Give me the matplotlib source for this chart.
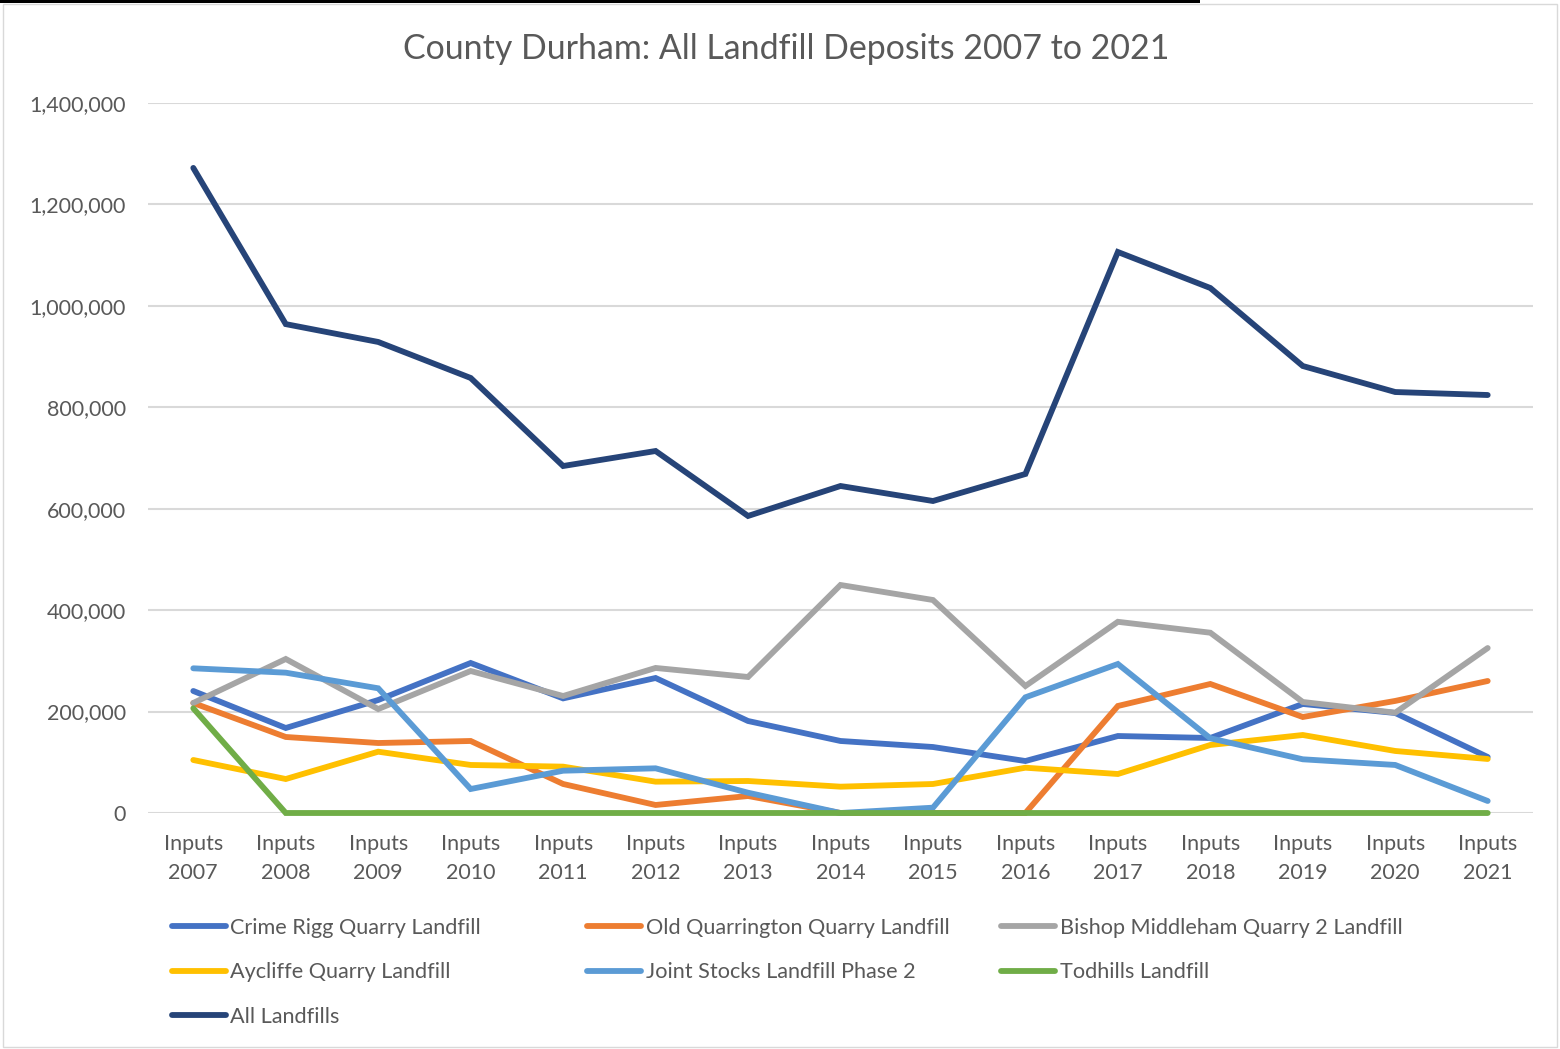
import numpy as np
import matplotlib
matplotlib.use("Agg")
import matplotlib.pyplot as plt
from matplotlib.ticker import FuncFormatter

plt.rcParams['font.family'] = ['Lato', 'DejaVu Sans']

years = list(range(2007, 2022))
labels = ["Inputs\n%d" % y for y in years]

crime_rigg = [240600, 167600, 222800, 295800, 226000, 266200, 181400, 142000,
              130100, 102500, 151800, 147900, 215000, 197200, 110400]
old_quarrington = [216900, 149900, 138000, 142000, 57200, 15800, 33500, 0,
                   0, 0, 211000, 254400, 189300, 221000, 260300]
bishop_middleham = [217000, 303700, 205000, 280000, 230700, 286000, 268200, 449600,
                    420000, 250400, 377000, 355500, 218900, 197800, 325300]
aycliffe = [104500, 67000, 120900, 94700, 91400, 61800, 63100, 51900,
            57200, 89300, 76900, 134100, 153800, 122300, 106500]
joint_stocks = [285300, 276700, 245900, 47300, 83400, 88100, 40000, 0,
                10500, 228100, 293800, 147300, 105900, 94700, 23700]
todhills = [206400, 0, 0, 0, 0, 0, 0, 0, 0, 0, 0, 0, 0, 0, 0]
all_landfills = [1272000, 964000, 928800, 857800, 684200, 713800, 585700, 644800,
                 615200, 668500, 1106200, 1035200, 881400, 830100, 824200]

series = [
    ("Crime Rigg Quarry Landfill", crime_rigg, "#4472C4"),
    ("Old Quarrington Quarry Landfill", old_quarrington, "#ED7D31"),
    ("Bishop Middleham Quarry 2 Landfill", bishop_middleham, "#A5A5A5"),
    ("Aycliffe Quarry Landfill", aycliffe, "#FFC000"),
    ("Joint Stocks Landfill Phase 2", joint_stocks, "#5B9BD5"),
    ("Todhills Landfill", todhills, "#70AD47"),
    ("All Landfills", all_landfills, "#264478"),
]

txt = "#595959"
fig = plt.figure(figsize=(15.6, 10.49), dpi=100)
ax = fig.add_axes([148 / 1560, 1 - 813 / 1049, 1385 / 1560, 710 / 1049])

x = np.arange(len(years))
handles = {}
for name, vals, col in series:
    h, = ax.plot(x, vals, color=col, lw=4.2, solid_capstyle='round',
                 solid_joinstyle='miter', label=name, clip_on=False)
    handles[name] = h

ax.set_xlim(-0.49, 14.49)
ax.set_ylim(0, 1400000)
ax.set_yticks(np.arange(0, 1400001, 200000))
ax.yaxis.set_major_formatter(FuncFormatter(lambda v, p: f"{int(v):,}"))
ax.set_xticks(x)
ax.set_xticklabels(labels, linespacing=1.55)
ax.grid(axis='y', color="#D9D9D9", lw=1.5)
ax.set_axisbelow(True)
for s in ax.spines.values():
    s.set_visible(False)
ax.tick_params(axis='y', length=0, pad=16, labelsize=15.5, labelcolor=txt)
ax.tick_params(axis='x', length=0, pad=15, labelsize=15.5, labelcolor=txt)

fig.text(786 / 1560, 1 - 49 / 1049, "County Durham: All Landfill Deposits 2007 to 2021",
         ha='center', va='center', fontsize=24.4, color=txt)

# legend, three columns laid out row-wise
cols = [
    (172, ["Crime Rigg Quarry Landfill", "Aycliffe Quarry Landfill", "All Landfills"]),
    (587, ["Old Quarrington Quarry Landfill", "Joint Stocks Landfill Phase 2"]),
    (1001, ["Bishop Middleham Quarry 2 Landfill", "Todhills Landfill"]),
]
for px, names in cols:
    leg = fig.legend([handles[n] for n in names], names, loc='upper left',
                     bbox_to_anchor=(px / 1560, 1 - 918 / 1049), frameon=False,
                     fontsize=15.6, handlelength=2.5, handletextpad=0.2,
                     borderpad=0, borderaxespad=0, labelspacing=1.13, labelcolor=txt)

# chart border and top bar
fig.add_artist(plt.Rectangle((0.002, 0.002), 0.996, 0.994, transform=fig.transFigure,
                             fill=False, ec="#D9D9D9", lw=1))
fig.add_artist(plt.Rectangle((0, 1 - 3 / 1049), 1200 / 1560, 3 / 1049,
                             transform=fig.transFigure, fc="black", ec="none"))

fig.savefig("out.png", dpi=100)
